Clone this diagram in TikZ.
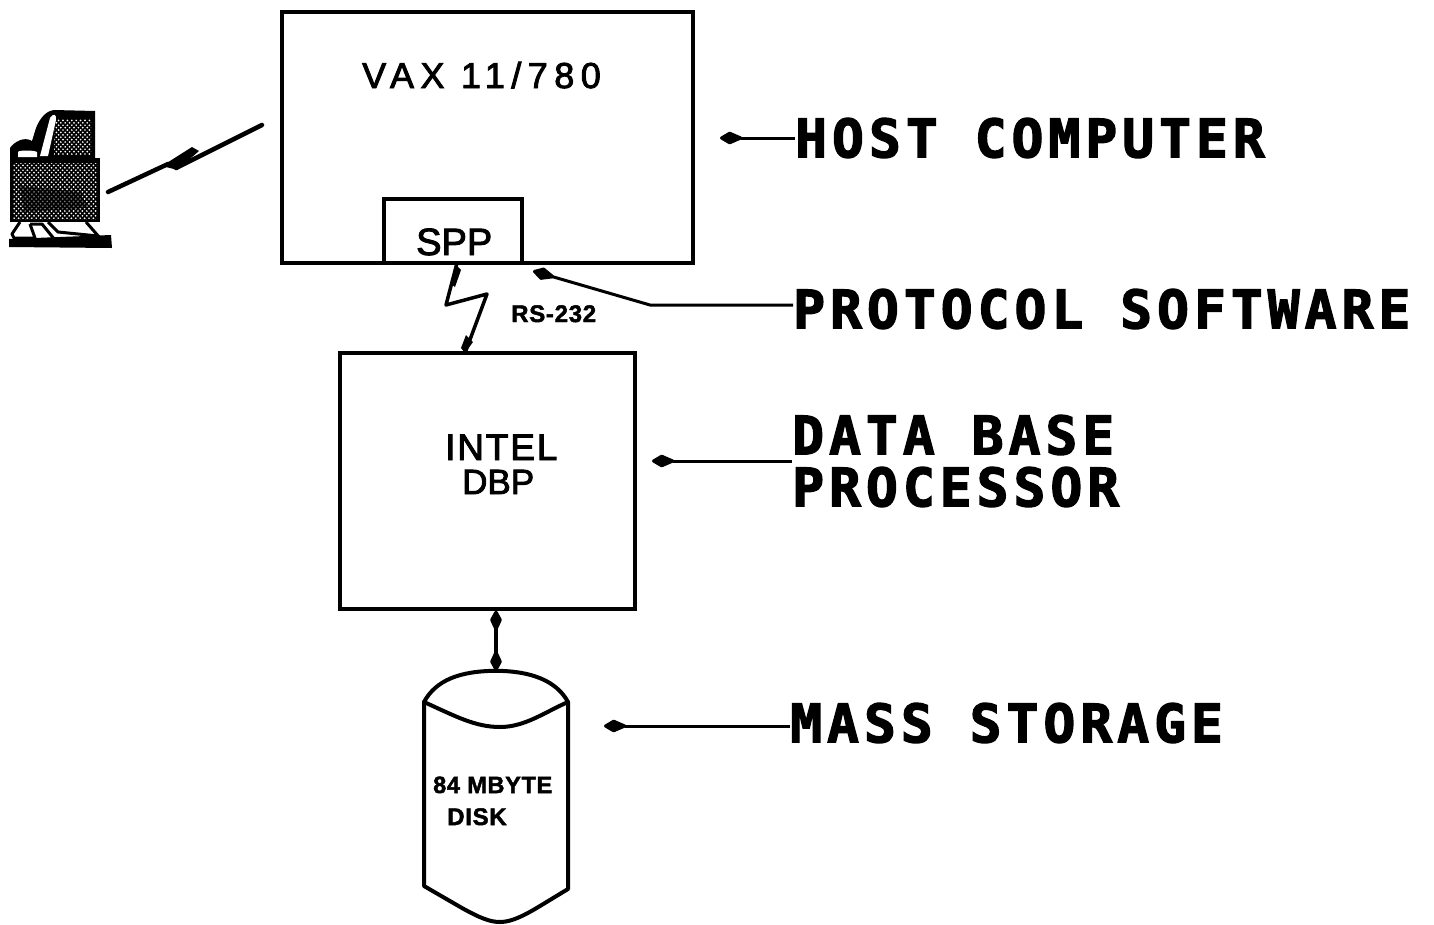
\documentclass[tikz,border=0pt]{standalone}
\usepackage{fontspec}
\usetikzlibrary{arrows.meta,calc}
\setmainfont{Liberation Sans}
\newfontfamily\plotbig[LetterSpace=9.4,FakeBold=2.5]{DejaVu Sans Mono Bold}
\newfontfamily\plotvax[LetterSpace=18,FakeBold=2.5]{Liberation Sans}
\newfontfamily\plotreg[FakeBold=2.5]{Liberation Sans}
\newfontfamily\plotintel[LetterSpace=5,FakeBold=2.5]{Liberation Sans}
\newfontfamily\plotbold[LetterSpace=3,FakeBold=2]{Liberation Sans Bold}
\tikzset{
  box/.style={draw=black,line width=3.5pt,fill=white,inner sep=0pt,rectangle},
  biglabel/.style={font=\plotbig\fontsize{53}{52}\selectfont,inner sep=0pt,anchor=west,align=left,text=black},
  boxtext/.style={font=\plotreg\fontsize{37}{37}\selectfont,inner sep=0pt,anchor=base west,text=black},
  smalltext/.style={font=\plotbold\fontsize{24}{24}\selectfont,inner sep=0pt,anchor=base west,text=black},
  pointer/.style={line width=3pt,-{Kite[length=26pt,width=13pt,inset=15pt,round]}},
  wire/.style={line width=3.5pt,line join=round},
  blob/.style={{Kite[length=24pt,width=12pt,inset=13pt,round]}-{Kite[length=24pt,width=12pt,inset=13pt,round]}},
  outline/.style={draw=black,line width=4pt,line join=round,line cap=round}
}
\newcommand{\dotfield}[3]{%
  \foreach \i in {0,...,24}{\foreach \j in {0,...,#3}{
    \fill[white] ({#1+\i*4.4+mod(\j,2)*2.2},{#2+\j*2.4}) circle (0.95);}}}
\begin{document}
\begin{tikzpicture}[x=1pt,y=-1pt]
\useasboundingbox[fill=white] (0,0) rectangle (1434,924);
% main boxes
\node[box,minimum width=411pt,minimum height=251pt] (host) at (487.5,137.5) {};
\node[box,minimum width=138pt,minimum height=64pt] (spp) at (453,231) {};
\node[box,minimum width=295pt,minimum height=256pt] (intel) at (487.5,481) {};
\node[boxtext,font=\plotvax\fontsize{36}{36}\selectfont] (vax) at (362,88) {VAX 11/780};
\node[boxtext,font=\plotreg\fontsize{38}{38}\selectfont] (spplabel) at (416,255) {SPP};
\node[boxtext,font=\plotintel\fontsize{37}{37}\selectfont] (intellabel) at (445,460) {INTEL};
\node[boxtext,font=\plotreg\fontsize{35}{35}\selectfont] (dbp) at (462,494) {DBP};
% disk
\node[inner sep=0pt,minimum width=144pt,minimum height=251pt] (disk) at (496,796.5) {};
\draw[outline] (disk.north) .. controls (460,671) and (436,680) .. (424,702)
  -- (424,886) -- (462,908) .. controls (480,918) and (490,922) .. (500,922)
  .. controls (512,922) and (525,915) .. (540,906) -- (568,889) -- (568,702)
  .. controls (556,680) and (530,671) .. (disk.north) -- cycle;
\draw[outline] (424,702) .. controls (455,716) and (475,727) .. (500,727)
  .. controls (525,727) and (545,712) .. (568,702);
\node[smalltext,font=\plotbold\fontsize{23.5}{23.5}\selectfont] (disksize) at (433,793) {84 MBYTE};
\node[smalltext] (disklabel) at (447,825) {DISK};
\node[smalltext] (rs) at (511,322) {RS-232};
% links
\draw[wire,blob] (intel.south -| disk.north) -- (disk.north);
\coordinate (rsa) at (457,263);
\coordinate (rsb) at (465,353);
\draw[wire] (rsa) -- (446,305) -- (487,294) -- (rsb);
\fill (457,266) -- (461,270) -- (455,287) -- (451,284) -- cycle;
\fill (465,353) -- (461,348) -- (466,335) -- (473,342) -- cycle;
% labels
\node[biglabel] (lhost) at (795,138) {HOST COMPUTER};
\node[biglabel] (lproto) at (793,309) {PROTOCOL SOFTWARE};
\node[biglabel] (ldbp) at (792,461) {DATA BASE\\PROCESSOR};
\node[biglabel] (lmass) at (790,723) {MASS STORAGE};
\coordinate (phost) at (720,138);
\coordinate (pproto) at (533,271);
\coordinate (pdbp) at (652,461);
\coordinate (pmass) at (604,726);
\draw[pointer] (lhost.west) -- (phost);
\draw[pointer,line join=round] ([yshift=4pt]lproto.west) -- (650,305) -- (pproto);
\draw[pointer] (ldbp.west) -- (pdbp);
\draw[pointer] ([yshift=-3pt]lmass.west) -- (pmass);
% terminal icon
\coordinate (termr) at (108,192);
\coordinate (hostl) at (262,125);
\fill (10,148) .. controls (14,142) and (24,136) .. (32,141) -- (36,128) .. controls (40,118) and (46,111) .. (54,110) -- (95,111) -- (95,160) -- (10,160) -- cycle;
\fill[white] (40,156) -- (50,118) .. controls (53,113) and (57,114) .. (56,120) -- (48,156) -- cycle;
\fill[white] (18,152) .. controls (18,150) and (34,150) .. (37,152) -- (37,157) -- (18,157) -- cycle;
\begin{scope}
  \clip (55,119) -- (91,119) -- (91,155) -- (54,155) -- cycle;
  \dotfield{52}{118}{16}
\end{scope}
\fill (10,158) -- (100,158) -- (100,222) -- (10,222) -- cycle;
\begin{scope}
  \clip (13,163) -- (97,163) -- (97,219) -- (13,219) -- cycle;
  \dotfield{12}{163}{24}
\end{scope}
\fill[black,opacity=0.55] (20,186) -- (80,192) -- (88,208) -- (24,212) -- cycle;
\draw[line width=3pt,line join=round] (20,222) -- (12,234) -- (14,238) -- (35,238) -- (30,224);
\draw[line width=3pt,line join=round] (30,224) -- (42,224) -- (55,240);
\draw[line width=3pt] (86,222) -- (100,238);
\draw[line width=3pt] (48,222) -- (58,232) -- (98,236);
\fill (9,239) -- (111,235) -- (112,248) -- (9,247) -- cycle;
\draw[line width=4.5pt,line join=round,line cap=round] (termr) -- (168,164);
\draw[line width=4.5pt,line join=round,line cap=round] (176,168) -- (hostl);
\fill (162,166) -- (192,147) -- (199,151) -- (177,170) -- (174,169) -- cycle;
\end{tikzpicture}
\end{document}
